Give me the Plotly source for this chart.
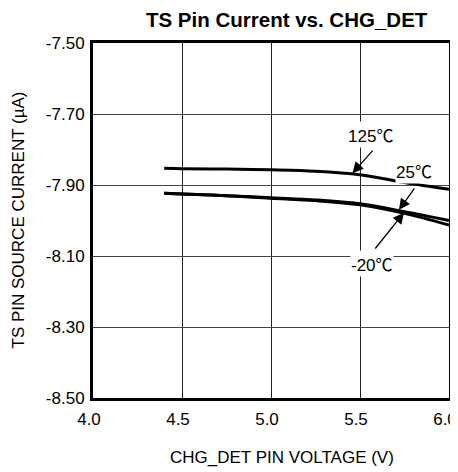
import plotly.graph_objects as go

voltage = [4.4, 4.5, 4.75, 5.0, 5.25, 5.5, 5.75, 6.0]
current_125 = [-7.853, -7.854, -7.855, -7.857, -7.861, -7.871, -7.893, -7.912]
current_25 = [-7.923, -7.925, -7.930, -7.936, -7.942, -7.953, -7.975, -8.000]
current_m20 = [-7.923, -7.925, -7.930, -7.937, -7.944, -7.956, -7.980, -8.013]

x_ticks = [4.0, 4.5, 5.0, 5.5, 6.0]
x_tick_labels = ["4.0", "4.5", "5.0", "5.5", "6.0"]
y_ticks = [-7.5, -7.7, -7.9, -8.1, -8.3, -8.5]
y_tick_labels = ["-7.50", "-7.70", "-7.90", "-8.10", "-8.30", "-8.50"]

labels = ["125", "25", "-20"]
label_x = [5.56, 5.803, 5.566]
label_y = [-7.759, -7.858, -8.121]
arrow_tail_x = [5.579, 5.812, 5.579]
arrow_tail_y = [-7.799, -7.905, -8.083]
arrow_tip_x = [5.457, 5.719, 5.747]
arrow_tip_y = [-7.867, -7.970, -7.978]

FONT = "Liberation Sans, Arial, sans-serif"
FS = 17

fig = go.Figure()
for ys in (current_125, current_25, current_m20):
    fig.add_trace(go.Scatter(x=voltage, y=ys, mode="lines",
                             line=dict(color="black", width=3, shape="spline"),
                             showlegend=False, hoverinfo="skip"))

annotations = []
for i in range(3):
    annotations.append(dict(x=arrow_tip_x[i], y=arrow_tip_y[i], xref="x", yref="y",
                            ax=arrow_tail_x[i], ay=arrow_tail_y[i], axref="x", ayref="y",
                            text="", showarrow=True, arrowhead=2, arrowsize=1.7,
                            arrowwidth=1.3, arrowcolor="black"))
for i in range(3):
    annotations.append(dict(x=label_x[i], y=label_y[i], xref="x", yref="y",
                            text=labels[i] + "<span style='font-family:Noto Sans CJK SC'>℃</span>",
                            showarrow=False, bgcolor="white",
                            font=dict(family=FONT, size=FS, color="black"),
                            borderpad=0))

annotations.append(dict(x=0.53, y=-0.169, xref="paper", yref="paper",
                        text="CHG_DET PIN VOLTAGE (V)", showarrow=False,
                        xanchor="center", yanchor="middle",
                        font=dict(family=FONT, size=FS, color="black")))
annotations.append(dict(x=(10 - 85) / 356, y=0.5, xref="paper", yref="paper",
                        text="TS PIN SOURCE CURRENT (µA)", showarrow=False,
                        textangle=-90, xanchor="center", yanchor="middle",
                        font=dict(family=FONT, size=FS, color="black")))

fig.update_layout(
    width=458, height=464,
    margin=dict(l=85, r=17, t=35, b=74, autoexpand=False),
    paper_bgcolor="white", plot_bgcolor="white",
    title=dict(text="<b>TS Pin Current vs. CHG_DET</b>", x=0.544, xref="paper",
               xanchor="center", y=1 - 12 / 464, yref="container", yanchor="middle",
               font=dict(family=FONT, size=20.5, color="black")),
    annotations=annotations,
    font=dict(family=FONT, size=FS, color="black"),
)
fig.update_xaxes(range=[4.0, 6.0], tickvals=x_ticks, ticktext=x_tick_labels,
                 showgrid=True, gridcolor="#222222", gridwidth=1,
                 showline=True, linecolor="black", linewidth=3, mirror=True,
                 ticks="", zeroline=False, ticklabelstandoff=4, ticklabelshift=-4,
                 automargin=False, ticklabeloverflow="allow",
                 tickfont=dict(family=FONT, size=FS, color="black"))
fig.update_yaxes(range=[-8.5, -7.5], tickvals=y_ticks, ticktext=y_tick_labels,
                 showgrid=True, gridcolor="#444444", gridwidth=1,
                 showline=True, linecolor="black", linewidth=3, mirror=True,
                 ticks="", zeroline=False, ticklabelstandoff=2, automargin=False,
                 ticklabeloverflow="allow",
                 tickfont=dict(family=FONT, size=FS, color="black"))

fig.write_html("out.html")
